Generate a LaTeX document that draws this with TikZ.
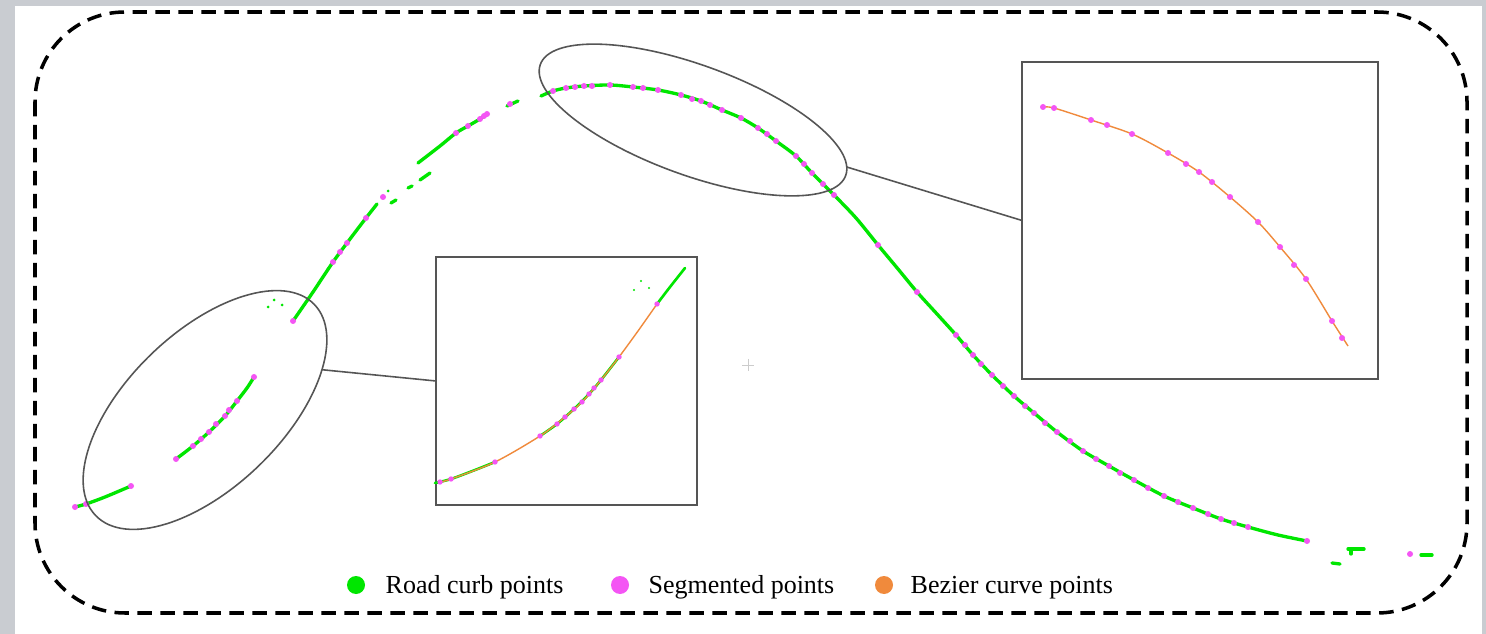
\documentclass[tikz,border=0pt]{standalone}
\usepackage{fontspec}
\setmainfont{Liberation Serif}
\usepackage{tikz}
\usetikzlibrary{positioning, shapes.geometric}
\definecolor{curbcol}{HTML}{00E600}
\definecolor{segcol}{HTML}{F455F4}
\definecolor{beziercol}{HTML}{F08A3C}
\definecolor{bordocol}{HTML}{555555}
\definecolor{sfondocol}{HTML}{C9CCD1}
\tikzset{
	% cornice tratteggiata esterna
	cornice/.style={line width=2pt, dash pattern=on 0.29cm off 0.17cm, rounded corners=1.8cm},
	% punti del cordolo (linea verde)
	curbo/.style={curbcol, line width=1.9pt, line cap=round},
	curbofine/.style={curbcol, line width=1.5pt, line cap=round},
	% curva di Bezier
	bezier/.style={beziercol, line width=0.8pt},
	% ellisse di ingrandimento
	lente/.style={draw=bordocol, ellipse, line width=0.9pt, inner sep=0pt, outer sep=0pt},
	% riquadro di dettaglio
	zoombox/.style={draw=bordocol, rectangle, line width=1.1pt, inner sep=0pt, outer sep=0pt, fill=white},
	% collegamento lente-riquadro
	collegamento/.style={draw=bordocol, line width=0.9pt},
	% legenda
	legpunto/.style={circle, inner sep=0pt, minimum size=0.36cm},
	legtesto/.style={inner sep=0pt, yshift=-0.05cm, font=\fontsize{14.8}{17}\selectfont},
}

\begin{document}
\begin{tikzpicture}[x=0.02cm, y=-0.02cm]
    \useasboundingbox (0,0) rectangle (1486,634);
    % sfondo
    \fill[sfondocol] (0,0) rectangle (1486,634);
    \fill[white] (15,6) rectangle (1482,634);
    \draw[cornice] (35,12) rectangle (1467,613);
    % tracciato principale
    \draw[curbo] plot[smooth] coordinates {(75,507) (86,504) (105,497) (131,486)};
    \draw[curbo] plot[smooth] coordinates {(176,459) (193,446) (209,432) (225,416) (237,401) (247,388) (254,377)};
    \draw[curbo] plot[smooth] coordinates {(293,321) (313,292) (333,262) (350,239) (366,218) (377,204)};
    \draw[curbo] (391,203) -- (396,200);
    \draw[curbo] (408,188) -- (412,186);
    \draw[curbo] (420,180) -- (430,173);
    \draw[curbo] plot[smooth] coordinates {(418,163) (440,146) (456,133) (468,126) (480,119) (487,114)};
    \draw[curbo] (507,106) -- (518,101);
    \draw[curbo] plot[smooth] coordinates {(541,96) (553,91) (566,88) (584,86) (610,85) (633,87) (658,90) (681,95) (701,101) (722,110) (741,118) (758,128) (776,141) (796,156) (812,173) (834,195) (856,218) (878,245) (898,269) (917,292) (937,314) (956,335) (973,355) (992,375) (1014,396) (1034,413) (1057,432) (1083,451) (1109,466) (1134,480) (1164,496) (1193,508) (1221,519) (1248,527) (1278,535) (1307,541)};
    \draw[curbo] (1332,563) -- (1340,564);
    \draw[curbo] (1348,549) -- (1364,549) (1351,549) -- (1351,554);
    \draw[curbo] (1421,555) -- (1432,555);
    \foreach \p in {(388,191),(274,300),(282,305),(268,307)}
      \fill[curbcol] \p circle (1.5);
    % punti segmentati
    \foreach \p in {(75,507),(86,504),(131,486),
                    (176,459),(193,446),(201,439),(209,432),(216,424),(225,416),(229,410),(237,401),(254,377),
                    (293,321),(333,262),(340,252),(347,243),(366,218),(383,197),
                    (456,133),(468,126),(480,119),(484,116),(487,114),(510,104),
                    (553,91),(566,88),(575,87),(584,86),(592,86),(610,85),(633,87),(643,88),(658,90),
                    (681,95),(692,99),(701,101),(710,105),(722,110),(741,118),(758,128),(767,134),(776,141),
                    (796,156),(804,164),(812,173),(823,184),(834,195),(878,245),(917,292),
                    (956,335),(965,345),(973,355),(981,364),(992,375),(1003,386),(1014,396),(1025,406),
                    (1034,413),(1045,423),(1057,432),(1070,441),(1083,451),(1096,459),(1109,466),(1120,473),
                    (1134,480),(1148,488),(1164,496),(1178,502),(1193,508),(1208,514),(1221,519),(1234,523),
                    (1248,527),(1307,541),(1410,554)}
      \fill[segcol] \p circle (3);
    % lenti di ingrandimento
    \node[lente, minimum width=6.5cm, minimum height=2.2cm, rotate=-20] (lente1) at (693,120) {};
    \node[lente, minimum width=6.08cm, minimum height=3.1cm, rotate=44] (lente2) at (205,410) {};
    % riquadri di dettaglio
    \node[zoombox, minimum width=5.22cm, minimum height=4.96cm] (box1) at (566.5,381) {};
    \node[zoombox, minimum width=7.12cm, minimum height=6.34cm] (box2) at (1200,220.5) {};
    \draw[collegamento] (lente2.-25) -- (box1.west);
    \draw[collegamento] (lente1.3) -- (box2.west);
    % dettaglio 1
    \draw[curbofine] plot[smooth] coordinates {(435,483) (451,479) (475,470) (495,462)};
    \draw[curbofine] plot[smooth] coordinates {(540,436) (557,424) (574,409) (589,394) (601,380) (619,357)};
    \draw[curbofine] plot[smooth] coordinates {(657,304) (670,287) (685,268)};
    \draw[bezier] plot[smooth] coordinates {(440,482) (451,479) (495,462) (540,436) (565,417) (582,402) (601,380) (619,357) (638,331) (657,304)};
    \foreach \p in {(634,290),(641,281),(649,288)}
      \fill[curbcol] \p circle (1.1);
    \foreach \p in {(440,482),(451,479),(495,462),(540,436),(557,424),(565,417),(574,409),(582,402),
                    (589,394),(594,388),(601,380),(619,357),(657,304)}
      \fill[segcol] \p circle (2.7);
    % dettaglio 2
    \draw[bezier] plot[smooth] coordinates {(1043,107) (1054,108) (1091,120) (1132,134) (1168,153) (1199,172) (1230,197) (1258,222) (1280,247) (1306,279) (1332,321) (1348,346)};
    \foreach \p in {(1043,107),(1054,108),(1091,120),(1107,125),(1132,134),(1168,153),(1186,164),
                    (1199,172),(1212,182),(1230,197),(1258,222),(1280,247),(1294,265),(1306,279),
                    (1332,321),(1342,338)}
      \fill[segcol] \p circle (3);
    % croce centrale
    \draw[black!20, line width=0.3pt] (742,365) -- (754,365) (748,359) -- (748,371);
    % legenda
    \node[legpunto, fill=curbcol] (legc1) at (356,585) {};
    \node[legtesto, right=0.4cm of legc1] (legt1) {Road curb points};
    \node[legpunto, fill=segcol] (legc2) at (620,585) {};
    \node[legtesto, right=0.38cm of legc2] (legt2) {Segmented points};
    \node[legpunto, fill=beziercol] (legc3) at (884,585) {};
    \node[legtesto, right=0.34cm of legc3] (legt3) {Bezier curve points};
\end{tikzpicture}
\end{document}
